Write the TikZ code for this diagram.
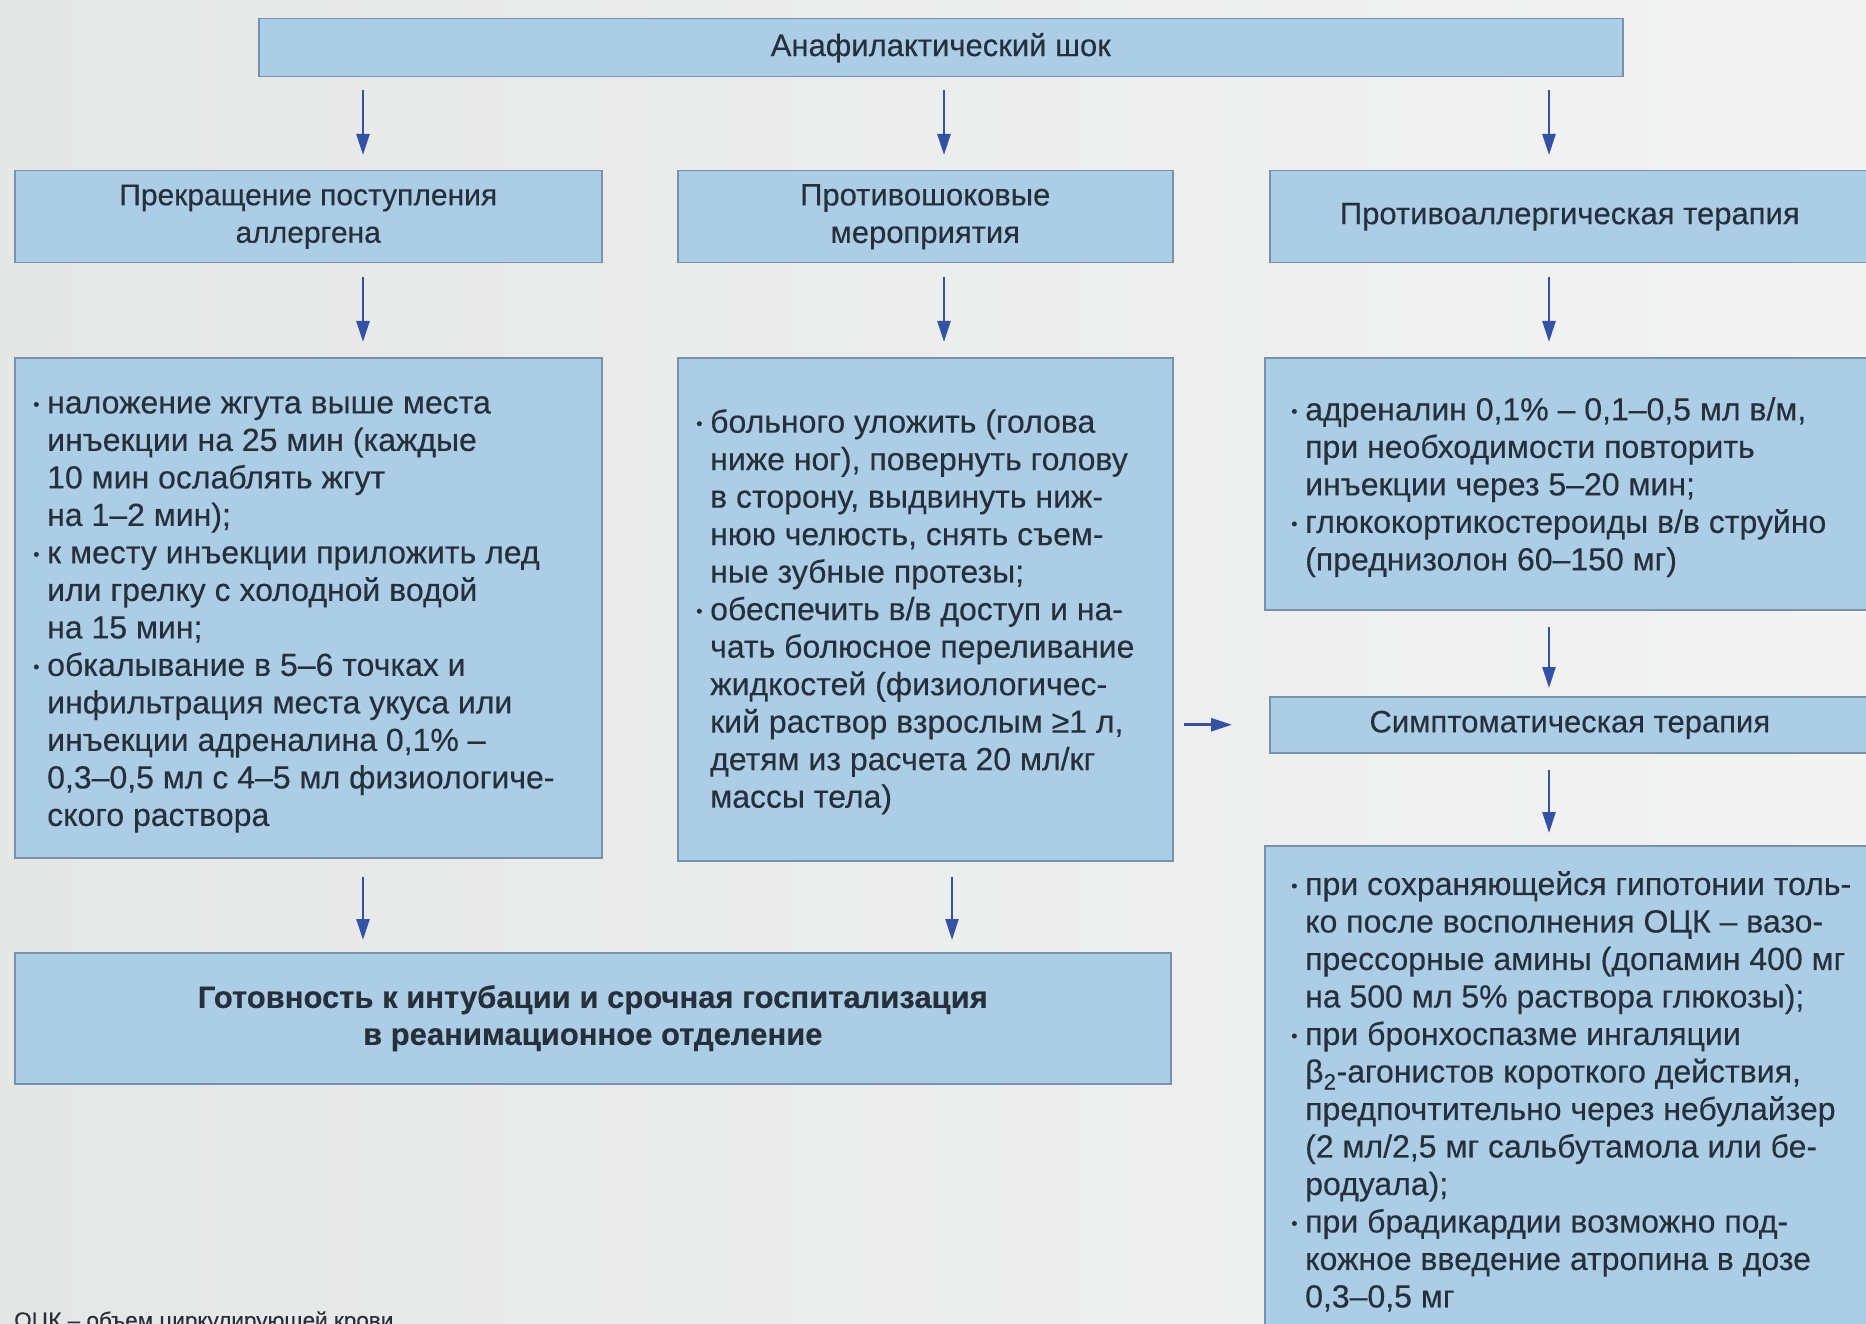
\documentclass[tikz,border=0pt]{standalone}
\usepackage{fontspec}
\setmainfont{Liberation Sans}[FakeBold=0.3]
\usetikzlibrary{arrows.meta,calc}
\definecolor{bgl}{RGB}{229,230,230}
\definecolor{bgr}{RGB}{243,243,243}
\definecolor{boxfill}{RGB}{171,206,230}
\definecolor{boxline}{RGB}{118,146,172}
\definecolor{txt}{RGB}{38,47,58}
\definecolor{arrowc}{RGB}{52,82,165}
\newcommand{\bul}{\makebox[14pt][l]{\raisebox{3pt}{\fontsize{18}{18}\selectfont •}}}
\newcommand{\ind}{\hspace*{14pt}}
\begin{document}
\begin{tikzpicture}[x=1pt,y=-1pt,
  box/.style={draw=boxline, line width=1.5pt, fill=boxfill, inner sep=0pt,
    text=txt, align=center, anchor=north west, font=\fontsize{31}{37.5}\selectfont},
  listtext/.style={text=txt, align=left, anchor=north west, inner sep=0pt,
    font=\fontsize{32}{37.5}\selectfont},
  arr/.style={draw=arrowc, line width=2.6pt, -{Triangle[length=21pt,width=13pt]}}]
\shade[left color=bgl, right color=bgr] (0,0) rectangle (1866,1324);
\useasboundingbox (0,0) rectangle (1866,1324);

% boxes
\node[box, minimum width=1364pt, minimum height=58pt] (top) at (258,18) {Анафилактический шок};
\node[box, minimum width=587pt, minimum height=92pt, font=\fontsize{30}{37.5}\selectfont] (r2a) at (14,170) {Прекращение поступления\\аллергена};
\node[box, minimum width=495pt, minimum height=92pt] (r2b) at (677,170) {Противошоковые\\мероприятия};
\node[box, minimum width=600pt, minimum height=92pt] (r2c) at (1269,170) {Противоаллергическая терапия};
\node[box, minimum width=587pt, minimum height=500pt] (r3a) at (14,357) {};
\node[box, minimum width=495pt, minimum height=503pt] (r3b) at (677,357) {};
\node[box, minimum width=606pt, minimum height=252pt] (r3c) at (1264,357) {};
\node[box, minimum width=600pt, minimum height=56pt] (sym) at (1269,696) {Симптоматическая терапия};
\node[box, minimum width=606pt, minimum height=495pt] (r5) at (1264,845) {};
\node[box, minimum width=1156pt, minimum height=131pt, font=\fontsize{31}{37}\selectfont\bfseries] (bot) at (14,952) {Готовность к интубации и срочная госпитализация\\в реанимационное отделение};

% list texts
\node[listtext] (t3a) at (33,396) {%
\bul наложение жгута выше места\\
\ind инъекции на 25 мин (каждые\\
\ind 10 мин ослаблять жгут\\
\ind на 1–2 мин);\\
\bul к месту инъекции приложить лед\\
\ind или грелку с холодной водой\\
\ind на 15 мин;\\
\bul обкалывание в 5–6 точках и\\
\ind инфильтрация места укуса или\\
\ind инъекции адреналина 0,1\% –\\
\ind 0,3–0,5 мл с 4–5 мл физиологиче-\\
\ind ского раствора};
\node[listtext] (t3b) at (696,409) {%
\bul больного уложить (голова\\
\ind ниже ног), повернуть голову\\
\ind в сторону, выдвинуть ниж-\\
\ind нюю челюсть, снять съем-\\
\ind ные зубные протезы;\\
\bul обеспечить в/в доступ и на-\\
\ind чать болюсное переливание\\
\ind жидкостей (физиологичес-\\
\ind кий раствор взрослым ≥1 л,\\
\ind детям из расчета 20 мл/кг\\
\ind массы тела)};
\node[listtext] (t3c) at (1291,397) {%
\bul адреналин 0,1\% – 0,1–0,5 мл в/м,\\
\ind при необходимости повторить\\
\ind инъекции через 5–20 мин;\\
\bul глюкокортикостероиды в/в струйно\\
\ind (преднизолон 60–150 мг)};
\node[listtext] (t5) at (1291,871) {%
\bul при сохраняющейся гипотонии толь-\\
\ind ко после восполнения ОЦК – вазо-\\
\ind прессорные амины (допамин 400 мг\\
\ind на 500 мл 5\% раствора глюкозы);\\
\bul при бронхоспазме ингаляции\\
\ind β\textsubscript{2}-агонистов короткого действия,\\
\ind предпочтительно через небулайзер\\
\ind (2 мл/2,5 мг сальбутамола или бе-\\
\ind родуала);\\
\bul при брадикардии возможно под-\\
\ind кожное введение атропина в дозе\\
\ind 0,3–0,5 мг};

\node[anchor=base west, inner sep=0pt, text=txt, font=\fontsize{22.5}{26}\selectfont] (note) at (14,1328) {ОЦК – объем циркулирующей крови};

% columns for arrows
\coordinate (c1) at (363,0);
\coordinate (c2) at (944,0);
\coordinate (c2b) at (952,0);
\coordinate (c3) at (1549,0);

\draw[arr, shorten <=13pt, shorten >=15pt] (top.south -| c1) -- (r2a.north -| c1);
\draw[arr, shorten <=13pt, shorten >=15pt] (top.south -| c2) -- (r2b.north -| c2);
\draw[arr, shorten <=13pt, shorten >=15pt] (top.south -| c3) -- (r2c.north -| c3);
\draw[arr, shorten <=14pt, shorten >=15pt] (r2a.south -| c1) -- (r3a.north -| c1);
\draw[arr, shorten <=14pt, shorten >=15pt] (r2b.south -| c2) -- (r3b.north -| c2);
\draw[arr, shorten <=14pt, shorten >=15pt] (r2c.south -| c3) -- (r3c.north -| c3);
\draw[arr, shorten <=16pt, shorten >=8pt] (r3c.south -| c3) -- (sym.north -| c3);
\draw[arr, shorten <=16pt, shorten >=12pt] (sym.south -| c3) -- (r5.north -| c3);
\draw[arr, shorten <=18pt, shorten >=12pt] (r3a.south -| c1) -- (bot.north -| c1);
\draw[arr, shorten <=15pt, shorten >=12pt] (r3b.south -| c2b) -- (bot.north -| c2b);
\draw[arr, shorten <=10pt, shorten >=37pt] (r3b.east |- sym.west) -- (sym.west);
\end{tikzpicture}
\end{document}
